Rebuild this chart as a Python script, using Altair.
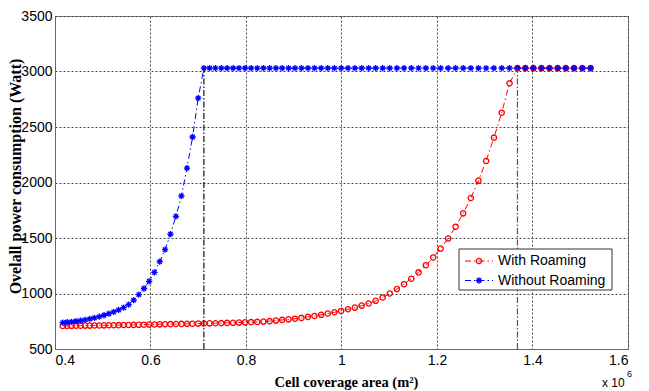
import altair as alt
import pandas as pd

# Cell coverage area (x 10^6 m^2)
area_x = [
    0.4162, 0.4254, 0.4347, 0.4441, 0.4536, 0.4632, 0.4729, 0.4827, 0.4927, 0.5027,
    0.5128, 0.5230, 0.5333, 0.5437, 0.5542, 0.5648, 0.5755, 0.5863, 0.5972, 0.6082,
    0.6193, 0.6305, 0.6418, 0.6532, 0.6648, 0.6764, 0.6881, 0.6999, 0.7118, 0.7238,
    0.7359, 0.7482, 0.7605, 0.7729, 0.7854, 0.7980, 0.8107, 0.8236, 0.8365, 0.8495,
    0.8626, 0.8758, 0.8891, 0.9026, 0.9161, 0.9297, 0.9434, 0.9573, 0.9712, 0.9852,
    0.9993, 1.0136, 1.0279, 1.0423, 1.0568, 1.0715, 1.0862, 1.1010, 1.1159, 1.1310,
    1.1461, 1.1613, 1.1767, 1.1921, 1.2076, 1.2233, 1.2390, 1.2548, 1.2708, 1.2868,
    1.3029, 1.3192, 1.3355, 1.3519, 1.3685, 1.3851, 1.4018, 1.4187, 1.4356, 1.4527,
    1.4698, 1.4870, 1.5044, 1.5218,
]

with_roaming = [
    708, 709, 709, 710, 710, 711, 711, 712, 712, 713,
    714, 714, 715, 716, 716, 717, 718, 719, 720, 721,
    722, 723, 724, 725, 726, 727, 728, 729, 730, 731,
    732, 733, 735, 736, 738, 740, 742, 744, 747, 751,
    756, 762, 767, 773, 780, 789, 798, 808, 820, 831,
    843, 858, 873, 891, 910, 934, 964, 1000, 1040, 1084,
    1133, 1190, 1255, 1325, 1405, 1495, 1602, 1722, 1860, 2017,
    2194, 2404, 2629, 2894, 3030, 3030, 3030, 3030, 3030, 3030,
    3030, 3030, 3030, 3030,
]

without_roaming = [
    738, 741, 745, 750, 756, 763, 771, 780, 791, 804,
    818, 834, 852, 873, 900, 940, 990, 1045, 1110, 1190,
    1287, 1395, 1535, 1695, 1880, 2130, 2410, 2760, 3030, 3030,
    3030, 3030, 3030, 3030, 3030, 3030, 3030, 3030, 3030, 3030,
    3030, 3030, 3030, 3030, 3030, 3030, 3030, 3030, 3030, 3030,
    3030, 3030, 3030, 3030, 3030, 3030, 3030, 3030, 3030, 3030,
    3030, 3030, 3030, 3030, 3030, 3030, 3030, 3030, 3030, 3030,
    3030, 3030, 3030, 3030, 3030, 3030, 3030, 3030, 3030, 3030,
    3030, 3030, 3030, 3030,
]

switch_x = [0.7118, 1.3685]
switch_top = [3030, 3030]
switch_bottom = [500, 500]
switch_color = ["#111111", "#555555"]

x_ticks = [0.4, 0.6, 0.8, 1.0, 1.2, 1.4, 1.6]
y_ticks = [500, 1000, 1500, 2000, 2500, 3000, 3500]
series_names = ["With Roaming", "Without Roaming"]
series_colors = ["#ff0000", "#0000ff"]

SANS = "Liberation Sans, Arial"
SERIF = "Liberation Serif, Times New Roman"
DASH = [6, 3, 1.5, 3]
ASTER = "M-1,0L1,0M0,-1L0,1M-0.7,-0.7L0.7,0.7M-0.7,0.7L0.7,-0.7"

df_red = pd.DataFrame({"x": area_x, "y": with_roaming})
df_blue = pd.DataFrame({"x": area_x, "y": without_roaming})
df_sw = pd.DataFrame({"x": switch_x, "y": switch_bottom, "y2": switch_top, "c": switch_color})

x_axis = alt.Axis(
    values=x_ticks, format="~g", title="Cell coverage area (m²)",
    grid=True, gridColor="#444444", gridDash=[2, 2], gridOpacity=1,
    ticks=False, labelFont=SANS, labelFontSize=14, labelColor="#000",
    labelPadding=4, domainColor="#666666",
    titleFont=SERIF, titleFontWeight="bold", titleFontSize=14.5, titleColor="#000",
    titleX=291, titleY=33, titleBaseline="middle", titleAlign="center",
)
y_axis = alt.Axis(
    values=y_ticks, format="d", title="Ovelall power consumption (Watt)",
    grid=True, gridColor="#444444", gridDash=[2, 2], gridOpacity=1,
    ticks=False, labelFont=SANS, labelFontSize=14, labelColor="#000",
    labelPadding=3, domainColor="#666666",
    titleFont=SERIF, titleFontWeight="bold", titleFontSize=16, titleColor="#000",
    titleX=-40, titleY=160, titleAngle=270, titleBaseline="middle", titleAlign="center",
)
xs = alt.Scale(domain=[0.4, 1.6], nice=False, zero=False)
ys = alt.Scale(domain=[500, 3500], nice=False, zero=False)

X = alt.X("x:Q", scale=xs, axis=x_axis)
Y = alt.Y("y:Q", scale=ys, axis=y_axis)

red_line = alt.Chart(df_red).mark_line(color=series_colors[0], strokeWidth=1, strokeDash=DASH).encode(x=X, y=Y)
red_pts = alt.Chart(df_red).mark_point(shape="circle", filled=False, color=series_colors[0],
                                        size=28, strokeWidth=1.3, opacity=1).encode(x=X, y=Y)
blue_line = alt.Chart(df_blue).mark_line(color=series_colors[1], strokeWidth=1, strokeDash=DASH).encode(x=X, y=Y)
blue_pts = alt.Chart(df_blue).mark_point(shape=ASTER, filled=False, color=series_colors[1],
                                          size=40, strokeWidth=1.3, opacity=1).encode(x=X, y=Y)
switch = alt.Chart(df_sw).mark_rule(strokeWidth=1.2, strokeDash=[6, 2, 1.5, 2]).encode(
    x=X, y=Y, y2="y2:Q", color=alt.Color("c:N", scale=None))

one = pd.DataFrame({"k": [0]})
leg_box = alt.Chart(one).mark_rect(fill="white", stroke="#333333", strokeWidth=1).encode(
    x=alt.value(404), x2=alt.value(557), y=alt.value(233), y2=alt.value(274))
legend_layers = [leg_box]
for i, (name, col) in enumerate(zip(series_names, series_colors)):
    yy = 245 + i * 19.5
    legend_layers.append(alt.Chart(one).mark_rule(color=col, strokeWidth=1, strokeDash=DASH).encode(
        x=alt.value(410), x2=alt.value(438), y=alt.value(yy)))
    if i == 0:
        legend_layers.append(alt.Chart(one).mark_point(shape="circle", filled=False, color=col,
                                                       size=28, strokeWidth=1.3, opacity=1).encode(
            x=alt.value(424), y=alt.value(yy)))
    else:
        legend_layers.append(alt.Chart(one).mark_point(shape=ASTER, filled=False, color=col,
                                                       size=40, strokeWidth=1.3, opacity=1).encode(
            x=alt.value(424), y=alt.value(yy)))
    legend_layers.append(alt.Chart(one).mark_text(text=name, font=SANS, fontSize=14, align="left",
                                                  baseline="middle", color="#000").encode(
        x=alt.value(443), y=alt.value(yy)))

exp_txt = alt.Chart(one).mark_text(text="x 10", font=SANS, fontSize=12, align="left",
                                   baseline="middle", color="#000").encode(x=alt.value(547), y=alt.value(367))
exp_sup = alt.Chart(one).mark_text(text="6", font=SANS, fontSize=9, align="left",
                                   baseline="middle", color="#000").encode(x=alt.value(572), y=alt.value(358))

chart = alt.layer(
    red_line, red_pts, blue_line, blue_pts, switch, *legend_layers, exp_txt, exp_sup
).properties(
    width=573, height=333,
    autosize=alt.AutoSizeParams(type="none"),
    padding={"left": 55, "top": 16, "right": 21, "bottom": 42},
    background="white",
).configure_view(stroke="#888888", strokeWidth=1)

chart.save("out.html", embed_options={"renderer": "svg", "actions": False})
